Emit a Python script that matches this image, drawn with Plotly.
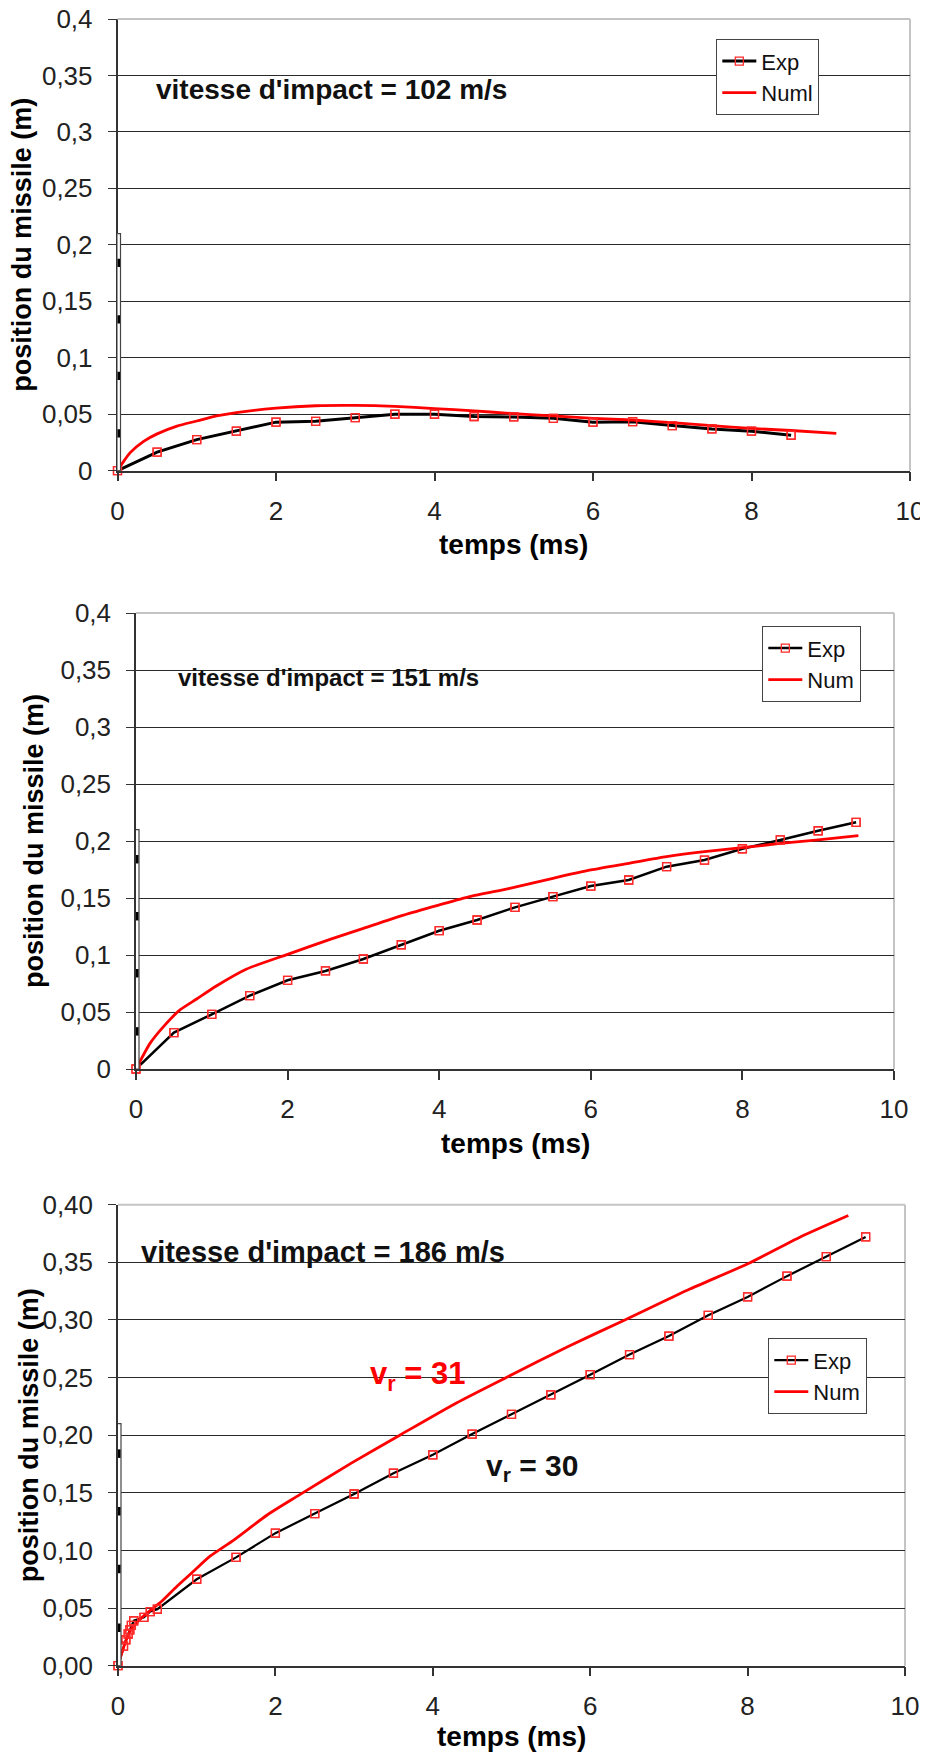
import plotly.graph_objects as go

# ---------------- data ----------------
# Chart 1 : vitesse d'impact = 102 m/s
t_exp_102 = [0, 0.5, 1.0, 1.5, 2.0, 2.5, 3.0, 3.5, 4.0, 4.5, 5.0, 5.5, 6.0, 6.5, 7.0, 7.5, 8.0, 8.5]
pos_exp_102 = [0, 0.0165, 0.0275, 0.035, 0.043, 0.0437, 0.047, 0.050, 0.050, 0.048, 0.0476,
               0.0464, 0.043, 0.0434, 0.040, 0.037, 0.035, 0.0314]
t_num_102 = [0, 0.075, 0.16, 0.33, 0.5, 0.75, 1.0, 1.25, 1.5, 2.0, 2.5, 3.0, 3.5, 4.0, 4.5, 4.9,
             5.5, 6.0, 6.5, 7.0, 7.5, 8.0, 8.5, 9.07]
pos_num_102 = [0, 0.008, 0.016, 0.026, 0.0326, 0.0395, 0.044, 0.0485, 0.0515, 0.0554, 0.0575,
               0.0578, 0.0569, 0.055, 0.053, 0.051, 0.0485, 0.0464, 0.0449, 0.0425, 0.040,
               0.0374, 0.0356, 0.033]

# Chart 2 : vitesse d'impact = 151 m/s
t_exp_151 = [0, 0.5, 1.0, 1.5, 2.0, 2.5, 3.0, 3.5, 4.0, 4.5, 5.0, 5.5, 6.0, 6.5, 7.0, 7.5,
             8.0, 8.5, 9.0, 9.5]
pos_exp_151 = [0, 0.0319, 0.048, 0.0643, 0.0778, 0.086, 0.0965, 0.109, 0.1213, 0.1307, 0.1418,
               0.1512, 0.1605, 0.1658, 0.1775, 0.1833, 0.1932, 0.2009, 0.209, 0.2164]
t_num_151 = [0, 0.185, 0.36, 0.58, 0.8, 1.06, 1.46, 2.0, 2.56, 3.0, 3.53, 4.0, 4.4, 4.93, 5.5,
             6.0, 6.5, 7.0, 7.5, 8.0, 8.5, 9.0, 9.53]
pos_num_151 = [0, 0.0225, 0.037, 0.0518, 0.0614, 0.0728, 0.0877, 0.1006, 0.1137, 0.1234, 0.135,
               0.1439, 0.1512, 0.1585, 0.1673, 0.1746, 0.1804, 0.1862, 0.1906, 0.1941, 0.1979,
               0.2009, 0.2047]

# Chart 3 : vitesse d'impact = 186 m/s
t_exp_186 = [0, 0.07, 0.1, 0.13, 0.15, 0.17, 0.2, 0.33, 0.41, 0.5, 1.0, 1.5, 2.0, 2.5, 3.0,
             3.5, 4.0, 4.5, 5.0, 5.5, 6.0, 6.5, 7.0, 7.5, 8.0, 8.5, 9.0, 9.5]
pos_exp_186 = [0, 0.017, 0.0225, 0.0275, 0.031, 0.035, 0.039, 0.042, 0.047, 0.049, 0.075, 0.094,
               0.115, 0.132, 0.149, 0.167, 0.183, 0.201, 0.218, 0.235, 0.2525, 0.270, 0.286,
               0.304, 0.320, 0.338, 0.355, 0.372]
t_num_186 = [0, 0.076, 0.16, 0.29, 0.41, 0.54, 0.75, 0.96, 1.17, 1.47, 1.9, 2.30, 2.97, 3.58,
             4.30, 4.96, 5.72, 6.44, 7.24, 8.01, 8.67, 9.28]
pos_num_186 = [0, 0.0168, 0.031, 0.041, 0.048, 0.055, 0.069, 0.082, 0.095, 0.109, 0.131, 0.148,
               0.176, 0.200, 0.228, 0.251, 0.277, 0.300, 0.326, 0.349, 0.372, 0.3906]

x_ticks = [0, 2, 4, 6, 8, 10]
x_tick_labels = ["0", "2", "4", "6", "8", "10"]
y_ticks = [0, 0.05, 0.1, 0.15, 0.2, 0.25, 0.3, 0.35, 0.4]
y_tick_labels_short = ["0", "0,05", "0,1", "0,15", "0,2", "0,25", "0,3", "0,35", "0,4"]
y_tick_labels_long = ["0,00", "0,05", "0,10", "0,15", "0,20", "0,25", "0,30", "0,35", "0,40"]

ruler_top = 0.21
ruler_marks = [0.033, 0.084, 0.134, 0.184]

titles = ["vitesse d'impact = 102 m/s", "vitesse d'impact = 151 m/s", "vitesse d'impact = 186 m/s"]
num_names = ["Numl", "Num", "Num"]

# ---------------- layout geometry (page pixels) ----------------
PAGE_W, PAGE_H = 928, 1754
OFF = 8                     # default body margin of the html page
W, H = PAGE_W - OFF, PAGE_H - OFF
FONT = "Liberation Sans, Arial, sans-serif"
# plot areas: left, right, top, bottom (page px)
areas = [(117.5, 910, 19, 470.7), (136, 894, 613, 1069), (118, 905, 1204.7, 1665.7)]
xtitle_offset = [74, 74, 71]


def px(x):
    return (x - OFF) / W


def py(y):
    return 1 - (y - OFF) / H


datasets = [
    (t_exp_102, pos_exp_102, t_num_102, pos_num_102, y_tick_labels_short),
    (t_exp_151, pos_exp_151, t_num_151, pos_num_151, y_tick_labels_short),
    (t_exp_186, pos_exp_186, t_num_186, pos_num_186, y_tick_labels_long),
]

fig = go.Figure()
layout = dict(width=W, height=H, margin=dict(l=0, r=0, t=0, b=0), autosize=False,
              paper_bgcolor="white", plot_bgcolor="white",
              font=dict(family=FONT, color="#222"), shapes=[], annotations=[])

legend_pos = [(716, 39), (762, 626), (768, 1338)]
title_pos = [(154, 89, 28), (176, 677, 24), (139, 1252, 29)]
ytitle_x = [22, 34, 29]
exp_width = [3, 2.5, 2.2]
marker_style = dict(symbol="square-open", size=8, color="#ff2a2a",
                    line=dict(width=1.3, color="#ff2a2a"))

for i, (te, pe, tn, pn, ylabels) in enumerate(datasets):
    k = "" if i == 0 else str(i + 1)
    xa, ya = "x" + k, "y" + k
    lg = "legend" + k
    l, r, t, b = areas[i]
    layout["xaxis" + k] = dict(domain=[px(l), px(r)], anchor=ya, range=[0, 10],
                               tickvals=x_ticks, ticktext=x_tick_labels,
                               showgrid=False, zeroline=False, showline=True,
                               linecolor="#333", linewidth=1.5, ticks="outside",
                               ticklen=9, tickcolor="#333", tickwidth=1.5,
                               tickfont=dict(size=26, color="#222"),
                               ticklabelstandoff=7, ticklabeloverflow="allow",
                               automargin=False, fixedrange=True)
    layout["yaxis" + k] = dict(domain=[py(b), py(t)], anchor=xa, range=[0, 0.4],
                               tickvals=y_ticks, ticktext=ylabels,
                               showgrid=True, gridcolor="#2a2a2a", gridwidth=1.2,
                               zeroline=False, showline=True, linecolor="#333",
                               linewidth=1.5, ticks="outside", ticklen=8,
                               tickcolor="#333", tickwidth=1.2,
                               tickfont=dict(size=26, color="#222"),
                               ticklabelstandoff=10, ticklabeloverflow="allow",
                               automargin=False, fixedrange=True)

    fig.add_trace(go.Scatter(x=te, y=pe, mode="lines+markers", name="Exp",
                             line=dict(color="black", width=exp_width[i]),
                             marker=marker_style,
                             xaxis=xa, yaxis=ya, legend=lg, cliponaxis=False))
    fig.add_trace(go.Scatter(x=tn, y=pn, mode="lines", name=num_names[i],
                             line=dict(color="#ff0000", width=2.8, shape="spline", smoothing=0.6),
                             xaxis=xa, yaxis=ya, legend=lg, cliponaxis=False))
    fig.add_trace(go.Scatter(x=te, y=pe, mode="markers", showlegend=False,
                             marker=marker_style,
                             xaxis=xa, yaxis=ya, cliponaxis=False, hoverinfo="skip"))

    lx, ly = legend_pos[i]
    layout[lg] = dict(x=px(lx), y=py(ly), xanchor="left", yanchor="top",
                      bgcolor="white", bordercolor="#444", borderwidth=1.3,
                      font=dict(size=22, color="#111", family=FONT),
                      itemwidth=34, tracegroupgap=0, traceorder="normal")

    # light border top and right
    layout["shapes"].append(dict(type="line", xref=xa + " domain", yref=ya + " domain",
                                 x0=0, x1=1, y0=1, y1=1, line=dict(color="#c4c4c4", width=2),
                                 layer="above"))
    layout["shapes"].append(dict(type="line", xref=xa + " domain", yref=ya + " domain",
                                 x0=1, x1=1, y0=0, y1=1, line=dict(color="#c4c4c4", width=2),
                                 layer="below"))
    # ruler drawn along the y axis
    layout["shapes"].append(dict(type="rect", xref=xa, yref=ya, xsizemode="pixel", xanchor=0,
                                 x0=-3.5, x1=3, y0=0, y1=ruler_top, fillcolor="white",
                                 line=dict(color="#444", width=1.2), layer="above"))
    for m in ruler_marks:
        layout["shapes"].append(dict(type="rect", xref=xa, yref=ya, xsizemode="pixel", xanchor=0,
                                     x0=-3, x1=2.5, y0=m - 0.0037, y1=m + 0.0037,
                                     fillcolor="black", line=dict(width=0), layer="above"))

    # chart title text
    tx, ty, ts = title_pos[i]
    layout["annotations"].append(dict(text="<b>%s</b>" % titles[i], xref="paper", yref="paper",
                                      x=px(tx), y=py(ty), xanchor="left", yanchor="middle",
                                      showarrow=False, font=dict(size=ts, color="#111", family=FONT)))
    # axis titles
    layout["annotations"].append(dict(text="<b>position du missile (m)</b>", xref="paper",
                                      yref="paper", x=px(ytitle_x[i]), y=py((t + b) / 2),
                                      xanchor="center", yanchor="middle", textangle=-90,
                                      showarrow=False, font=dict(size=27, color="black", family=FONT)))
    layout["annotations"].append(dict(text="<b>temps (ms)</b>", xref="paper", yref="paper",
                                      x=px((l + r) / 2), y=py(b + xtitle_offset[i]),
                                      xanchor="center", yanchor="middle", showarrow=False,
                                      font=dict(size=28, color="black", family=FONT)))

layout["annotations"].append(dict(text="<b>v<sub>r</sub> = 31</b>", xref="paper", yref="paper",
                                  x=px(368), y=py(1376), xanchor="left", yanchor="middle",
                                  showarrow=False, font=dict(size=31, color="#ff0000", family=FONT)))
layout["annotations"].append(dict(text="<b>v<sub>r</sub> = 30</b>", xref="paper", yref="paper",
                                  x=px(484), y=py(1467), xanchor="left", yanchor="middle",
                                  showarrow=False, font=dict(size=30, color="#111", family=FONT)))

fig.update_layout(**layout)
fig.write_html("out.html")
